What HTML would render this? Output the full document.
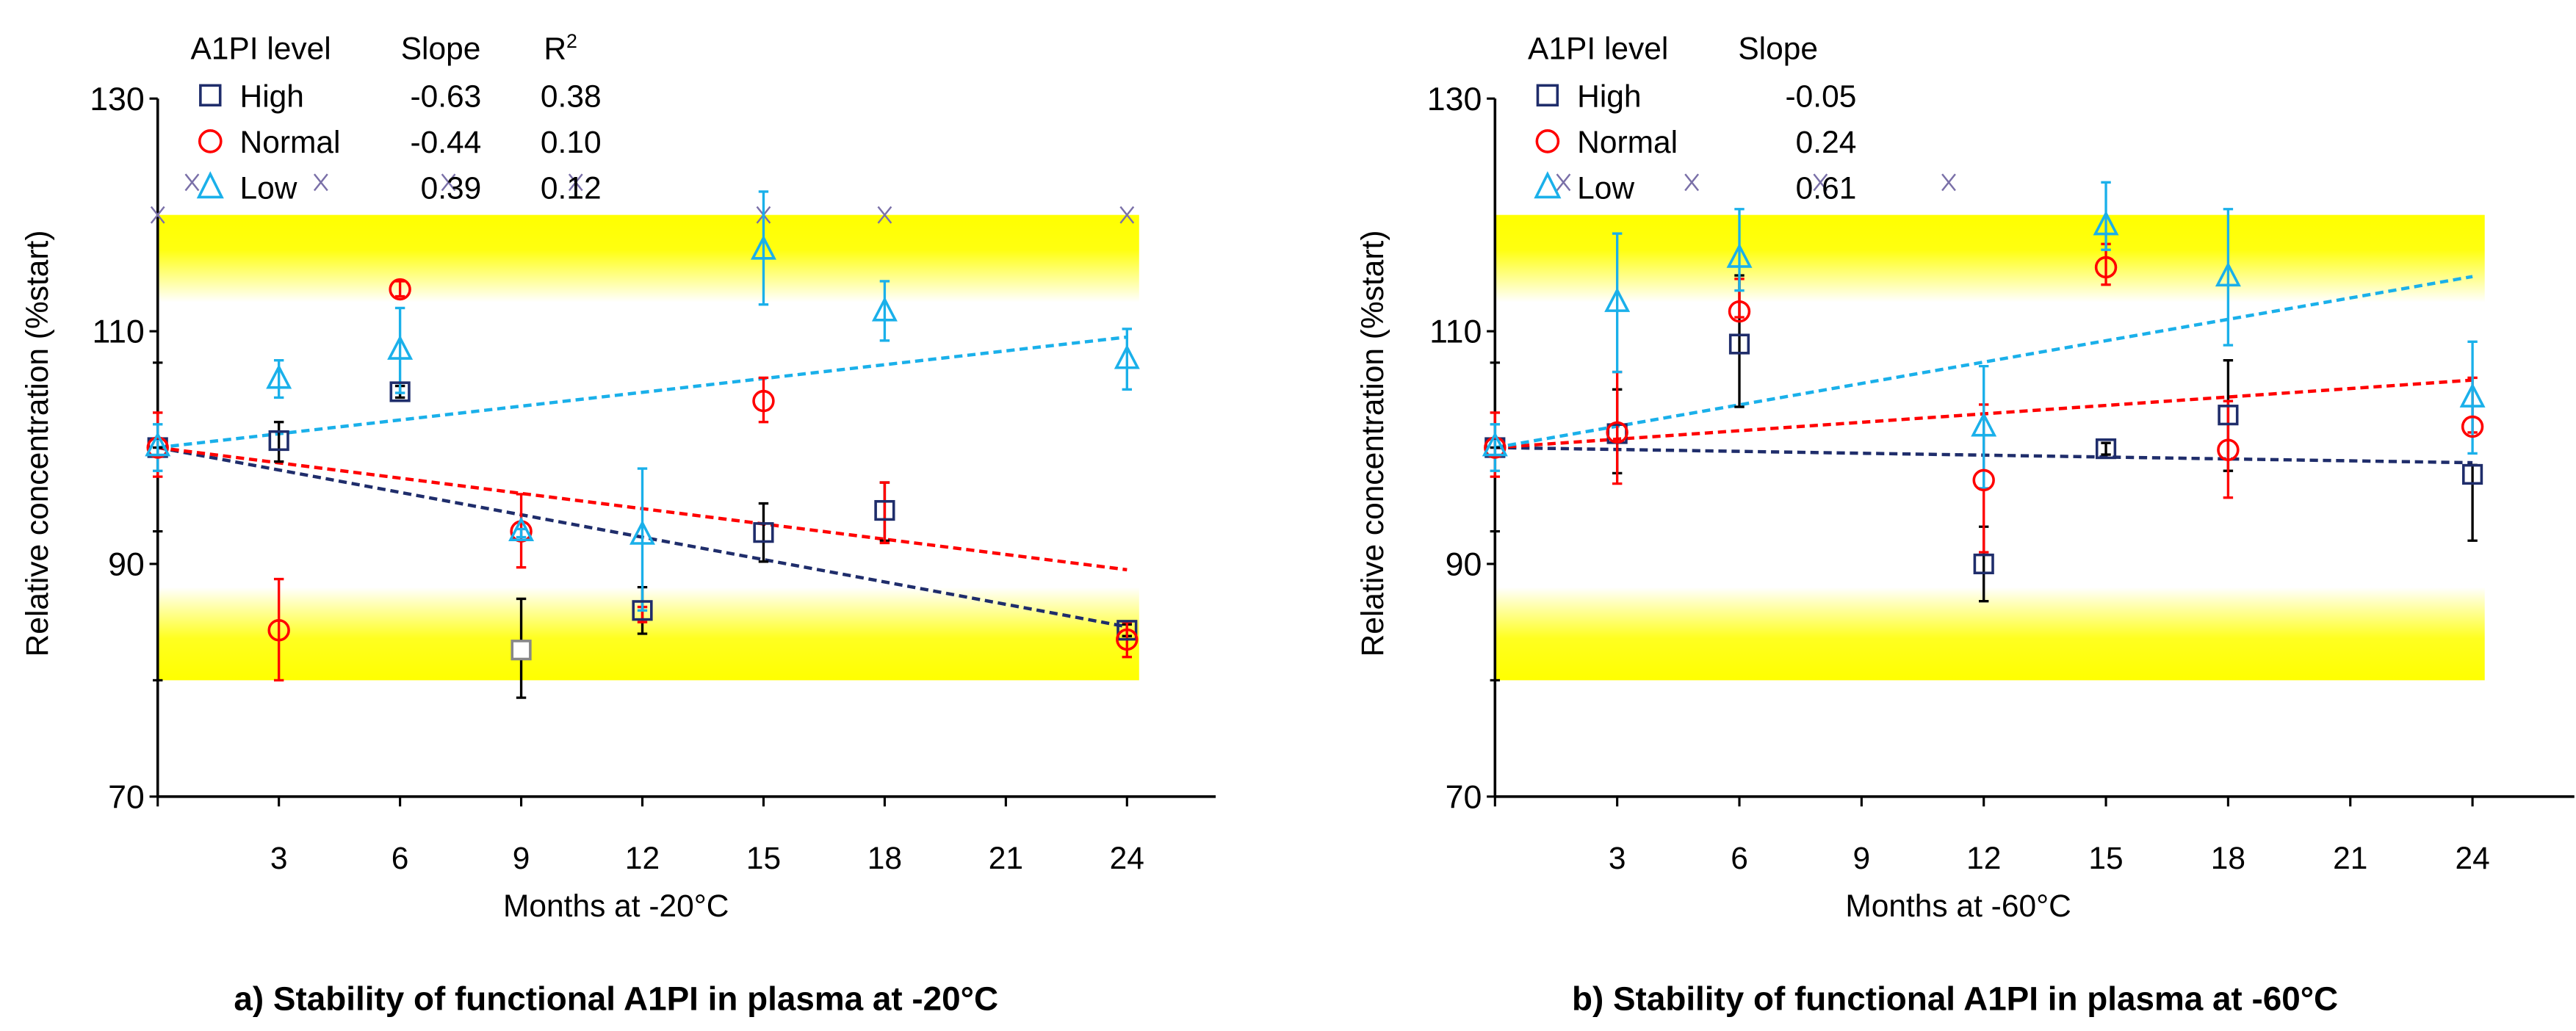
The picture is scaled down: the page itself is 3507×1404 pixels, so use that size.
<!DOCTYPE html>
<html><head><meta charset="utf-8"><style>
html,body{margin:0;padding:0;background:#fff}
svg{display:block}
text{font-family:"Liberation Sans",sans-serif}
</style></head><body>
<svg id="fig" width="3507" height="1404" viewBox="0 0 1568 627.7" xmlns="http://www.w3.org/2000/svg">
<defs>
<linearGradient id="gTop" x1="0" y1="0" x2="0" y2="1"><stop offset="0" stop-color="#ffff00"/><stop offset="0.4" stop-color="#ffff10"/><stop offset="1" stop-color="#ffffff"/></linearGradient>
<linearGradient id="gBot" x1="0" y1="0" x2="0" y2="1"><stop offset="0" stop-color="#ffffff"/><stop offset="0.55" stop-color="#ffff20"/><stop offset="1" stop-color="#ffff00"/></linearGradient>
</defs>
<g id="panelA"></g>
<g id="panelB"></g>
</svg>
<script>
const months = [0,3,6,9,12,15,18,24];
// Panel A (-20°C)
const aHigh = [100,100.6,104.8,82.6,86,92.7,94.6,84.3];
const aHighLo = [100,98.8,104.3,78.5,84,90.2,92,83.8];
const aHighHi = [100,102.2,105.3,87,88,95.2,97,84.8];
const aNormal = [100,84.3,113.6,92.8,null,104,null,83.5];
const aNormalLo = [97.5,80,113,89.7,85,102.2,91.8,82];
const aNormalHi = [103,88.7,114.3,96,86.3,106,97,85];
const aLow = [100,105.8,108.3,92.7,92.4,116.9,111.6,107.5];
const aLowLo = [98,104.3,104.7,92.3,86,112.3,109.2,105];
const aLowHi = [102,107.5,112,93,98.2,122,114.3,110.2];
const aTrendEnd = [84.6,89.5,109.5];
const aLegendSlope = ["-0.63","-0.44","0.39"];
const aLegendR2 = ["0.38","0.10","0.12"];
// Panel B (-60°C)
const bHigh = [100,101.2,108.9,null,90,99.9,102.8,97.7];
const bHighLo = [100,97.8,103.5,null,86.8,99.4,98,92];
const bHighHi = [100,105,114.8,null,93.2,100.4,107.5,98.5];
const bNormal = [100,101.3,111.7,null,97.2,115.5,99.8,101.8];
const bNormalLo = [97.5,96.9,111.2,null,91,114,95.7,101.3];
const bNormalHi = [103,106.5,114.5,null,103.7,117.5,104,106];
const bLow = [100,112.4,116.2,null,101.7,119,114.6,104.2];
const bLowLo = [98,106.5,113.5,null,96.5,117,108.8,99.5];
const bLowHi = [102,118.4,120.5,null,107,122.8,120.5,109.1];
const bTrendEnd = [98.7,105.8,114.7];
const bLegendSlope = ["-0.05","0.24","0.61"];
const xTicks = [3,6,9,12,15,18,21,24];
const yTicks = [70,90,110,130];
const aXMarks = [[0,120],[15,120],[18,120],[24,120],[0.85,122.8],[4.04,122.8],[7.2,122.8],[10.35,122.8]];
const bXMarks = [[1.68,122.8],[4.83,122.8],[7.99,122.8],[11.14,122.8]];

const NS="http://www.w3.org/2000/svg";
function mk(parent,tag,attrs,txt){const e=document.createElementNS(NS,tag);for(const k in attrs)e.setAttribute(k,attrs[k]);if(txt!==undefined)e.textContent=txt;parent.appendChild(e);return e;}
const NAVY="#1f2d6b", RED="#ff0000", CYAN="#1ab0ea";

function drawPanel(g,cfg){
  const x=v=>cfg.x0+v*(cfg.x24-cfg.x0)/24;
  const y=v=>485-(v-70)*(425/60);
  let r=mk(g,'rect',{x:x(0),y:y(120),width:x(24.3)-x(0),height:y(112.5)-y(120),fill:'url(#gTop)'});
  
  
  r=mk(g,'rect',{x:x(0),y:y(88),width:x(24.3)-x(0),height:y(80)-y(88),fill:'url(#gBot)'});
  
  
  let ax=mk(g,'line',{x1:x(0),y1:y(70),x2:x(0),y2:y(130),stroke:'#000','stroke-width':1.6});
  
  
  ax=mk(g,'line',{x1:x(0),y1:y(70),x2:cfg.xEnd,y2:y(70),stroke:'#000','stroke-width':1.6});
  
  
  yTicks.forEach(t=>{
    mk(g,'line',{x1:x(0)-5,y1:y(t),x2:x(0),y2:y(t),stroke:'#000','stroke-width':1.4});
    const tl=mk(g,'text',{x:x(0)-8,y:y(t)+7,'font-size':20,'text-anchor':'end',fill:'#000'},String(t));
    
    
  });
  [107.3,92.8,80].forEach(t=>mk(g,'line',{x1:x(0)-3,y1:y(t),x2:x(0)+3,y2:y(t),stroke:'#000','stroke-width':1.4}));
  mk(g,'line',{x1:x(0),y1:y(70),x2:x(0),y2:y(70)+6,stroke:'#000','stroke-width':1.4});
  xTicks.forEach(t=>{
    mk(g,'line',{x1:x(t),y1:y(70),x2:x(t),y2:y(70)+6,stroke:'#000','stroke-width':1.4});
    const tl=mk(g,'text',{x:x(t),y:529,'font-size':19,'text-anchor':'middle',fill:'#000'},String(t));
    
    
  });
  let t=mk(g,'text',{x:cfg.xt,y:558,'font-size':19,'text-anchor':'middle',fill:'#000'},cfg.xTitle);
  
  
  t=mk(g,'text',{transform:`translate(${cfg.yt},270) rotate(-90)`,'font-size':19,'text-anchor':'middle',fill:'#000'},'Relative concentration (%start)');
  
  
  t=mk(g,'text',{x:cfg.cap,y:615,'font-size':20.5,'font-weight':'bold','text-anchor':'middle',fill:'#000'},cfg.caption);
  
  
  cfg.xm.forEach(p=>{
    const px=x(p[0]),py=y(p[1]);
    const m=mk(g,'path',{d:`M${px-4},${py-5}L${px+4},${py+5}M${px+4},${py-5}L${px-4},${py+5}`,stroke:'#7a70a8','stroke-width':1.1,fill:'none'});
    
    
  });
  const trendCols=[NAVY,RED,CYAN];
  cfg.trend.forEach((e,i)=>{
    const l=mk(g,'line',{x1:x(0),y1:y(100),x2:x(24),y2:y(e),stroke:trendCols[i],'stroke-width':2,'stroke-dasharray':'5,3'});
    
    
  });
  const errs=[[cfg.hLo,cfg.hHi,'#000'],[cfg.nLo,cfg.nHi,RED],[cfg.lLo,cfg.lHi,CYAN]];
  errs.forEach(es=>{
    months.forEach((m,i)=>{
      if(es[0][i]==null)return;
      const eb=mk(g,'path',{d:`M${x(m)},${y(es[0][i])}V${y(es[1][i])}M${x(m)-3},${y(es[0][i])}h6M${x(m)-3},${y(es[1][i])}h6`,stroke:es[2],'stroke-width':1.5,fill:'none'});
      
      
    });
  });
  months.forEach((m,i)=>{
    const v=cfg.high[i]; if(v==null)return;
    const s=mk(g,'rect',{x:x(m)-5.5,y:y(v)-5.5,width:11,height:11,fill:(cfg.whiteIdx===i?'#fff':'none'),stroke:(cfg.whiteIdx===i?'#888':NAVY),'stroke-width':1.6});
    
    
  });
  months.forEach((m,i)=>{
    const v=cfg.normal[i]; if(v==null)return;
    const c=mk(g,'circle',{cx:x(m),cy:y(v),r:6,fill:'none',stroke:RED,'stroke-width':1.6});
    
    
  });
  months.forEach((m,i)=>{
    const v=cfg.low[i]; if(v==null)return;
    const px=x(m),py=y(v);
    const p=mk(g,'path',{d:`M${px},${py-8}L${px+6.5},${py+4.5}L${px-6.5},${py+4.5}Z`,fill:'none',stroke:CYAN,'stroke-width':1.6});
    
    
  });
  const L=cfg.leg;
  const lg=mk(g,'g',{});
  
  
  mk(lg,'text',{x:L.x,y:36,'font-size':19,fill:'#000'},'A1PI level');
  mk(lg,'text',{x:L.sx,y:36,'font-size':19,fill:'#000'},'Slope');
  if(cfg.r2){const r2=mk(lg,'text',{x:L.rx,y:36,'font-size':19,fill:'#000'},'R');mk(r2,'tspan',{'font-size':12,dy:-7},'2');}
  const names=['High','Normal','Low'];
  names.forEach((n,i)=>{
    const yy=58+28*i, mx=L.x+12;
    if(i===0)mk(lg,'rect',{x:mx-6,y:yy-6,width:12,height:12,fill:'none',stroke:NAVY,'stroke-width':1.6});
    if(i===1)mk(lg,'circle',{cx:mx,cy:yy,r:6.5,fill:'none',stroke:RED,'stroke-width':1.6});
    if(i===2)mk(lg,'path',{d:`M${mx},${yy-8}L${mx+7},${yy+6}L${mx-7},${yy+6}Z`,fill:'none',stroke:CYAN,'stroke-width':1.6});
    const e=mk(lg,'text',{x:L.x+30,y:yy+7,'font-size':19,fill:'#000'},n);
    
    
    mk(lg,'text',{x:L.sEnd,y:yy+7,'font-size':19,'text-anchor':'end',fill:'#000'},cfg.slopes[i]);
    if(cfg.r2)mk(lg,'text',{x:L.rEnd,y:yy+7,'font-size':19,'text-anchor':'end',fill:'#000'},cfg.r2[i]);
  });
}
drawPanel(document.getElementById('panelA'),{x0:96,x24:686,xEnd:740,xt:375,yt:29,cap:375,
  caption:'a) Stability of functional A1PI in plasma at -20°C',xTitle:'Months at -20°C',
  high:aHigh,hLo:aHighLo,hHi:aHighHi,normal:aNormal,nLo:aNormalLo,nHi:aNormalHi,low:aLow,lLo:aLowLo,lHi:aLowHi,
  trend:aTrendEnd,xm:aXMarks,whiteIdx:3,slopes:aLegendSlope,r2:aLegendR2,
  leg:{x:116,sx:244,rx:331,sEnd:293,rEnd:366}});
drawPanel(document.getElementById('panelB'),{x0:910,x24:1505,xEnd:1567,xt:1192,yt:842,cap:1190,
  caption:'b) Stability of functional A1PI in plasma at -60°C',xTitle:'Months at -60°C',
  high:bHigh,hLo:bHighLo,hHi:bHighHi,normal:bNormal,nLo:bNormalLo,nHi:bNormalHi,low:bLow,lLo:bLowLo,lHi:bLowHi,
  trend:bTrendEnd,xm:bXMarks,whiteIdx:-1,slopes:bLegendSlope,r2:null,
  leg:{x:930,sx:1058,rx:0,sEnd:1130,rEnd:0}});
</script>
</body></html>
